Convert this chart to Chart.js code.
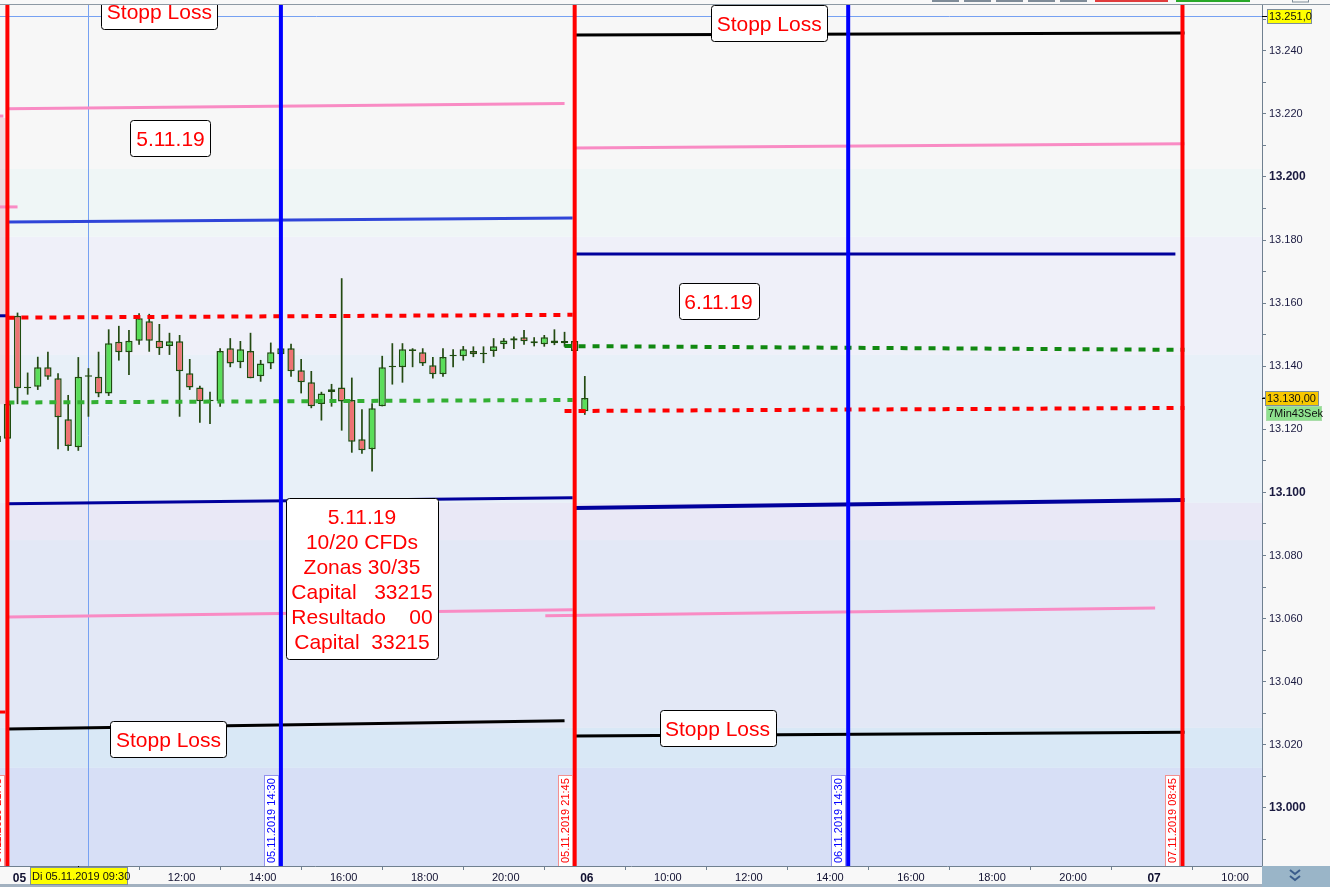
<!DOCTYPE html>
<html>
<head>
<meta charset="utf-8">
<script src="https://cdn.jsdelivr.net/npm/chart.js@4.4.0/dist/chart.umd.min.js"></script>
<style>
  html, body { margin: 0; padding: 0; background: #f8f8f8; overflow: hidden; }
  #wrap { width: 1330px; height: 887px; }
</style>
</head>
<body>
<div id="wrap"><canvas id="chart" width="1330" height="887"></canvas></div>
<script>
// x = bar index, one bar = 15 min, 0 = Di 05.11.2019 08:00 (06 starts at 56, 07 at 112)
const barIdx = [-2, -1, 0, 1, 2, 3, 4, 5, 6, 7, 8, 9, 10, 11, 12, 13, 14, 15, 16, 17, 18, 19,
  20, 21, 22, 23, 24, 25, 26, 27, 28, 29, 30, 31, 32, 33, 34, 35, 36, 37, 38, 39,
  40, 41, 42, 43, 44, 45, 46, 47, 48, 49, 50, 51, 52, 53, 54, 55, 56]
const opens = [13116, 13117, 13156, 13133, 13133.5, 13139.7, 13136.2, 13123.2, 13114.3, 13136.7, 13136.7, 13131.4,
  13147.8, 13144.4, 13148.1, 13154.3, 13148.1, 13146.4, 13147.9, 13137.8, 13133.3, 13128.9, 13128.9, 13145.7,
  13141.3, 13144.8, 13136.8, 13140.9, 13143.8, 13145.7, 13138.7, 13134.9, 13128.0, 13131.8, 13133.3, 13129.3,
  13116.9, 13113.7, 13127.3, 13139.7, 13139.7, 13145.4, 13144.4, 13140.3, 13137.5, 13143.2, 13143.2, 13144.8,
  13143.8, 13144.8, 13147.0, 13148.9, 13149.2, 13147.9, 13147.0, 13148.2, 13148.0, 13148.0, 13125.7]
const highs = [13121, 13129, 13157, 13138, 13143, 13144.6, 13137.8, 13130.9, 13142.9, 13139.4, 13144.6, 13151.7,
  13152.8, 13151.5, 13156.8, 13156.6, 13153.4, 13150.6, 13149.9, 13142.3, 13133.8, 13131.9, 13145.7, 13148.9,
  13148.0, 13150.6, 13142.0, 13147.5, 13147.0, 13147.1, 13142.3, 13138.5, 13131.9, 13134.4, 13167.9, 13136.4,
  13126.4, 13128.3, 13143.3, 13147.3, 13147.3, 13145.7, 13145.7, 13142.9, 13145.7, 13145.4, 13146.4, 13146.3,
  13146.3, 13148.9, 13148.9, 13149.4, 13151.5, 13149.2, 13149.9, 13151.7, 13150.9, 13149.0, 13136.9]
const lows = [13114, 13116, 13128, 13131, 13132.5, 13135.7, 13113.7, 13113.2, 13113.2, 13124.0, 13130.2, 13130.6,
  13141.8, 13137.2, 13146.8, 13144.6, 13143.6, 13143.6, 13124.0, 13132.5, 13122.1, 13121.7, 13127.2, 13139.7,
  13139.4, 13136.2, 13135.1, 13139.1, 13143.0, 13136.7, 13131.4, 13126.7, 13122.8, 13127.2, 13119.6, 13112.6,
  13112.3, 13106.6, 13127.3, 13134.2, 13134.8, 13139.7, 13140.1, 13136.1, 13136.7, 13139.7, 13141.8, 13142.9,
  13141.0, 13143.0, 13145.5, 13145.5, 13146.8, 13146.3, 13146.2, 13146.7, 13146.2, 13144.0, 13124.6]
const closes = [13118, 13128, 13133, 13133, 13139.7, 13136.7, 13123.8, 13114.7, 13136.7, 13136.7, 13131.4, 13147.3,
  13144.4, 13148.1, 13155.2, 13148.1, 13145.7, 13147.9, 13138.4, 13133.3, 13128.9, 13128.9, 13144.8, 13140.9,
  13145.4, 13136.2, 13140.9, 13144.4, 13145.7, 13138.4, 13134.9, 13127.3, 13131.4, 13132.7, 13128.8, 13116.1,
  13113.4, 13126.7, 13139.7, 13139.7, 13145.4, 13144.8, 13140.9, 13137.5, 13142.9, 13143.2, 13145.4, 13143.8,
  13143.8, 13146.3, 13148.2, 13148.2, 13147.9, 13147.3, 13149.2, 13147.3, 13147.3, 13144.8, 13129.9]

// axes
const xTickIdx = [0, 8, 16, 24, 32, 40, 48, 56, 64, 72, 80, 88, 96, 104, 112, 120]
const xTickLabels = ['05', '10:00', '12:00', '14:00', '16:00', '18:00', '20:00', '06',
  '10:00', '12:00', '14:00', '16:00', '18:00', '20:00', '07', '10:00']
const yTickVals = [12990, 13000, 13010, 13020, 13030, 13040, 13050, 13060, 13070, 13080, 13090, 13100,
  13110, 13120, 13130, 13140, 13150, 13160, 13170, 13180, 13190, 13200, 13210, 13220, 13230, 13240, 13250]
const xMin = -1.73
const xMax = 122.85
const yMin = 12981.6
const yMax = 13254.5

// drawn trend lines (bar index / price at both ends)
const trendKind = ['pink', 'blue', 'redDot', 'greenDot', 'navy', 'pink', 'black',
  'black', 'pink', 'navy', 'greenDot2', 'redDot', 'navyWide', 'pink', 'black',
  'pink', 'navy', 'pink', 'red']
const trendFromIdx = [-1, -1, -1, -1, -1, -1, -1, 55, 55, 55, 54, 54, 55, 52.1, 55, -1.73, -1.73, -1.73, -1.73]
const trendToIdx = [54, 54.8, 54.8, 54.8, 54.8, 54.8, 54, 115.2, 115.2, 114.3, 115.2, 115.2, 115.2, 112.3, 115.2, 0, -1, -1.4, -1.2]
const trendFromPrice = [13221.6, 13185.7, 13155.4, 13128.5, 13096.4, 13060.5, 13025.0,
  13245.0, 13209.2, 13175.6, 13146.4, 13125.8, 13095.1, 13060.9, 13022.8,
  13190.5, 13156.0, 13219.3, 13030.4]
const trendToPrice = [13223.3, 13187.0, 13156.3, 13129.3, 13098.3, 13062.8, 13027.6,
  13245.6, 13210.5, 13175.6, 13145.2, 13126.8, 13097.6, 13063.4, 13024.0,
  13190.5, 13156.0, 13219.3, 13030.4]

// vertical time markers
const vLineIdx = [-1, 26, 55, 82, 115]
const vLineKind = ['red', 'blue', 'red', 'blue', 'red']
const vLineLabel = ['04.11.2019 21:45', '05.11.2019 14:30', '05.11.2019 21:45', '06.11.2019 14:30', '07.11.2019 08:45']

// text notes
const noteIdx = [14.0, 15.1, 14.9, 34.0, 74.2, 69.2, 69.1]
const notePrice = [13252.6, 13212.4, 13021.9, 13072.6, 13248.8, 13160.7, 13025.4]
const noteText = [
  ['Stopp Loss'],
  ['5.11.19'],
  ['Stopp Loss'],
  ['5.11.19', '10/20 CFDs', 'Zonas 30/35', 'Capital   33215', 'Resultado    00', 'Capital  33215'],
  ['Stopp Loss'],
  ['6.11.19'],
  ['Stopp Loss']
]

// background zones (top price of each band, downwards)
const bandTop = [13254.5, 13202.5, 13181.0, 13143.6, 13096.7, 13084.9, 13025.4, 13012.7]
const bandColors = ['#f7f7f7', '#eff6f6', '#eff0f9', '#e8f0f8', '#e9e8f6', '#e3e8f6', '#d9e8f6', '#d7dff6']

// crosshair + last price
const crossIdx = 7
const crossLabelIdx = 6
const crossPrice = 13251
const crossTimeText = 'Di 05.11.2019 09:30'
const countdownText = '7Min43Sek'

const styles = {
  pink: { color: '#f98bc4', width: 3, dash: [] },
  blue: { color: '#2f45d8', width: 3, dash: [] },
  navy: { color: '#00009c', width: 3, dash: [] },
  navyWide: { color: '#00009c', width: 4, dash: [] },
  black: { color: '#000000', width: 3, dash: [] },
  red: { color: '#ff0000', width: 3, dash: [] },
  redDot: { color: '#ff0000', width: 4, dash: [7, 7] },
  greenDot: { color: '#33b033', width: 4, dash: [7, 7] },
  greenDot2: { color: '#118811', width: 4, dash: [7, 7] }
}
const vStyles = { red: '#ff0000', blue: '#0000ff' }
const vLabelBorder = { red: '#f39090', blue: '#9090f0' }

const fmtPrice = v => Math.floor(v / 1000) + '.' + String(Math.round(v % 1000)).padStart(3, '0')
const FONT = '"Liberation Sans", Arial, sans-serif'

const bodyColors = closes.map((c, k) => (c < opens[k] ? '#ee7272' : '#5ade5a'))

const datasets = []

vLineIdx.forEach((idx, k) => {
  datasets.push({
    type: 'line',
    data: [{ x: idx, y: yMin - 20 }, { x: idx, y: yMax + 20 }],
    borderColor: vStyles[vLineKind[k]],
    borderWidth: 4,
    pointRadius: 0,
    order: 0
  })
})

trendKind.forEach((kind, k) => {
  const st = styles[kind]
  datasets.push({
    type: 'line',
    data: [{ x: trendFromIdx[k], y: trendFromPrice[k] }, { x: trendToIdx[k], y: trendToPrice[k] }],
    borderColor: st.color,
    borderWidth: st.width,
    borderDash: st.dash,
    borderCapStyle: 'butt',
    pointRadius: 0,
    order: 1
  })
})

datasets.push({
  type: 'bar',
  data: barIdx.map((x, k) => ({ x, y: [opens[k], closes[k]] })),
  backgroundColor: bodyColors,
  borderColor: '#1f4d10',
  borderWidth: 1.5,
  borderSkipped: false,
  grouped: false,
  maxBarThickness: 8.5,
  minBarLength: 1.5,
  order: 2
})
datasets.push({
  type: 'bar',
  data: barIdx.map((x, k) => ({ x, y: [lows[k], highs[k]] })),
  backgroundColor: '#244a12',
  borderWidth: 0,
  grouped: false,
  maxBarThickness: 1.7,
  order: 3
})

function roundBox (ctx, x, y, w, h, r) {
  ctx.beginPath()
  ctx.moveTo(x + r, y)
  ctx.lineTo(x + w - r, y)
  ctx.quadraticCurveTo(x + w, y, x + w, y + r)
  ctx.lineTo(x + w, y + h - r)
  ctx.quadraticCurveTo(x + w, y + h, x + w - r, y + h)
  ctx.lineTo(x + r, y + h)
  ctx.quadraticCurveTo(x, y + h, x, y + h - r)
  ctx.lineTo(x, y + r)
  ctx.quadraticCurveTo(x, y, x + r, y)
  ctx.closePath()
}

function labelBox (ctx, text, x, y, w, h, fill, border, font) {
  ctx.fillStyle = fill
  ctx.fillRect(x, y, w, h)
  ctx.strokeStyle = border
  ctx.lineWidth = 1
  ctx.strokeRect(x + 0.5, y + 0.5, w - 1, h - 1)
  ctx.fillStyle = '#101010'
  ctx.font = font
  ctx.textAlign = 'left'
  ctx.textBaseline = 'middle'
  ctx.fillText(text, x + 2, y + h / 2 + 0.5)
}

const sketch = {
  id: 'sketch',
  beforeDatasetsDraw (chart) {
    const { ctx, chartArea: a, scales: { x, y } } = chart
    ctx.save()
    bandTop.forEach((top, k) => {
      const bottom = k + 1 < bandTop.length ? bandTop[k + 1] : yMin
      const y0 = y.getPixelForValue(top)
      const y1 = y.getPixelForValue(bottom)
      ctx.fillStyle = bandColors[k]
      ctx.fillRect(a.left, y0, a.right - a.left, y1 - y0)
    })
    // previous-day zone left of the first marker
    const zx0 = x.getPixelForValue(xMin)
    const zx1 = x.getPixelForValue(-1.2)
    const zy0 = y.getPixelForValue(13218.7)
    const zy1 = y.getPixelForValue(13128)
    ctx.fillStyle = 'rgba(236,180,196,0.45)'
    ctx.fillRect(zx0, zy0, zx1 - zx0, zy1 - zy0)
    // crosshair
    ctx.strokeStyle = '#76a1f2'
    ctx.lineWidth = 1
    const cx = Math.round(x.getPixelForValue(crossIdx)) + 0.5
    const cy = Math.round(y.getPixelForValue(crossPrice)) + 0.5
    ctx.beginPath()
    ctx.moveTo(cx, a.top)
    ctx.lineTo(cx, a.bottom)
    ctx.moveTo(a.left, cy)
    ctx.lineTo(a.right + 4, cy)
    ctx.stroke()
    ctx.restore()
  },
  afterDatasetsDraw (chart) {
    const { ctx, chartArea: a, scales: { x, y } } = chart
    ctx.save()
    ctx.beginPath()
    ctx.rect(a.left, a.top, a.right - a.left, a.bottom - a.top)
    ctx.clip()

    // rotated date labels at the foot of each marker
    vLineIdx.forEach((idx, k) => {
      const px = x.getPixelForValue(idx)
      ctx.font = '11px ' + FONT
      const tw = ctx.measureText(vLineLabel[k]).width
      const bw = 15
      const bh = Math.round(tw + 6)
      const bx = Math.round(px - 2 - bw)
      const by = a.bottom - bh
      ctx.fillStyle = '#ffffff'
      ctx.fillRect(bx, by, bw, bh)
      ctx.strokeStyle = vLabelBorder[vLineKind[k]]
      ctx.lineWidth = 1
      ctx.strokeRect(bx + 0.5, by + 0.5, bw - 1, bh)
      ctx.save()
      ctx.translate(bx + bw / 2 + 0.5, a.bottom - 3)
      ctx.rotate(-Math.PI / 2)
      ctx.fillStyle = vStyles[vLineKind[k]]
      ctx.textAlign = 'left'
      ctx.textBaseline = 'middle'
      ctx.fillText(vLineLabel[k], 0, 0)
      ctx.restore()
    })

    // note boxes
    ctx.font = '21px ' + FONT
    noteText.forEach((lines, k) => {
      const cx = x.getPixelForValue(noteIdx[k])
      const cy = y.getPixelForValue(notePrice[k])
      const lh = 25
      const w = Math.round(Math.max(...lines.map(t => ctx.measureText(t).width)) + 11)
      const h = lines.length * lh + 11
      const bx = Math.round(cx - w / 2) + 0.5
      const by = Math.round(cy - h / 2) + 0.5
      roundBox(ctx, bx, by, w, h, 3)
      ctx.fillStyle = '#ffffff'
      ctx.fill()
      ctx.strokeStyle = '#000000'
      ctx.lineWidth = 1
      ctx.stroke()
      ctx.fillStyle = '#ff0000'
      ctx.textAlign = 'center'
      ctx.textBaseline = 'middle'
      lines.forEach((t, j) => {
        ctx.fillText(t, cx, by + 6 + lh / 2 + j * lh + 1)
      })
    })
    ctx.restore()
  },
  afterDraw (chart) {
    const { ctx, chartArea: a, scales: { x, y } } = chart
    const W = chart.width
    const H = chart.height
    ctx.save()
    // top frame + toolbar edges
    ctx.fillStyle = '#8d99a4'
    ctx.fillRect(0, a.top - 1, W, 1)
    ctx.fillStyle = '#7f8c98'
    ;[932, 964, 996, 1028, 1060].forEach(bx => ctx.fillRect(bx, 0, 27, 2))
    ctx.fillStyle = '#e03c3c'
    ctx.fillRect(1095, 0, 73, 2)
    ctx.fillStyle = '#28a828'
    ctx.fillRect(1176, 0, 74, 2)
    ctx.strokeStyle = '#7f8c98'
    ctx.strokeRect(1292.5, -1, 16, 3)

    // bottom strip and corner button
    ctx.fillStyle = '#a2b1c0'
    ctx.fillRect(0, H - 3, a.right, 3)
    ctx.fillStyle = '#9ab5c8'
    ctx.fillRect(a.right, a.bottom, W - a.right, H - a.bottom)
    ctx.strokeStyle = '#3b5c8c'
    ctx.lineWidth = 2
    ctx.beginPath()
    ;[870, 876].forEach(cy => {
      ctx.moveTo(1290, cy)
      ctx.lineTo(1295, cy + 4)
      ctx.lineTo(1300, cy)
    })
    ctx.stroke()

    // crosshair time label
    const tx = x.getPixelForValue(crossLabelIdx)
    ctx.fillStyle = '#000000'
    ctx.fillRect(Math.round(tx), a.bottom, 1, 4)
    labelBox(ctx, crossTimeText, 30, a.bottom + 1, 98, 18, '#ffff00', '#7d8e9c', '11px ' + FONT)

    // crosshair price label
    const cy = y.getPixelForValue(crossPrice)
    ctx.fillStyle = '#000000'
    ctx.fillRect(a.right, Math.round(cy), 5, 1)
    labelBox(ctx, fmtPrice(crossPrice) + ',0', a.right + 5, Math.round(cy) - 7, 45, 15, '#ffff00', '#7d8e9c', '11px ' + FONT)

    // last price + countdown
    const last = closes[closes.length - 1]
    const ly = Math.round(y.getPixelForValue(last))
    ctx.fillStyle = '#000000'
    ctx.fillRect(a.right, ly, 4, 1)
    labelBox(ctx, fmtPrice(last) + ',00', a.right + 3, ly - 7, 54, 15, '#f8c800', '#7d8e9c', '11px ' + FONT)
    labelBox(ctx, countdownText, a.right + 4, ly + 8, 56, 15, '#8fe28f', '#a8dca8', '11px ' + FONT)
    ctx.restore()
  }
}

const chart = new Chart(document.getElementById('chart'), {
  type: 'bar',
  data: { datasets },
  options: {
    responsive: false,
    animation: false,
    events: [],
    layout: { padding: { top: 5, left: 0, right: 0, bottom: 0 } },
    plugins: { legend: { display: false }, tooltip: { enabled: false } },
    scales: {
      x: {
        type: 'linear',
        min: xMin,
        max: xMax,
        offset: false,
        afterBuildTicks: s => { s.ticks = xTickIdx.map(v => ({ value: v })) },
        afterFit: s => { s.height = 21; s.paddingLeft = 0; s.paddingRight = 0 },
        grid: { drawOnChartArea: false, tickLength: 4, color: '#708090' },
        border: { color: '#708090' },
        ticks: {
          autoSkip: false,
          maxRotation: 0,
          padding: 1,
          labelOffset: 2,
          color: '#101030',
          font: c => (xTickLabels[c.index] && xTickLabels[c.index].length === 2
            ? { family: FONT, size: 12, weight: 'bold' }
            : { family: FONT, size: 11 }),
          callback: (v, k) => xTickLabels[k]
        }
      },
      y: {
        position: 'right',
        min: yMin,
        max: yMax,
        afterBuildTicks: s => { s.ticks = yTickVals.map(v => ({ value: v })) },
        afterFit: s => { s.width = 68; s.paddingTop = 0; s.paddingBottom = 0 },
        grid: { drawOnChartArea: false, tickLength: 4, color: '#708090' },
        border: { color: '#708090' },
        ticks: {
          padding: 3,
          color: '#1a1a40',
          font: c => (c.tick && c.tick.value % 100 === 0
            ? { family: FONT, size: 12, weight: 'bold' }
            : { family: FONT, size: 11 }),
          callback: v => (v % 20 === 0 ? fmtPrice(v) : '')
        }
      }
    }
  },
  plugins: [sketch]
})
</script>
</body>
</html>
